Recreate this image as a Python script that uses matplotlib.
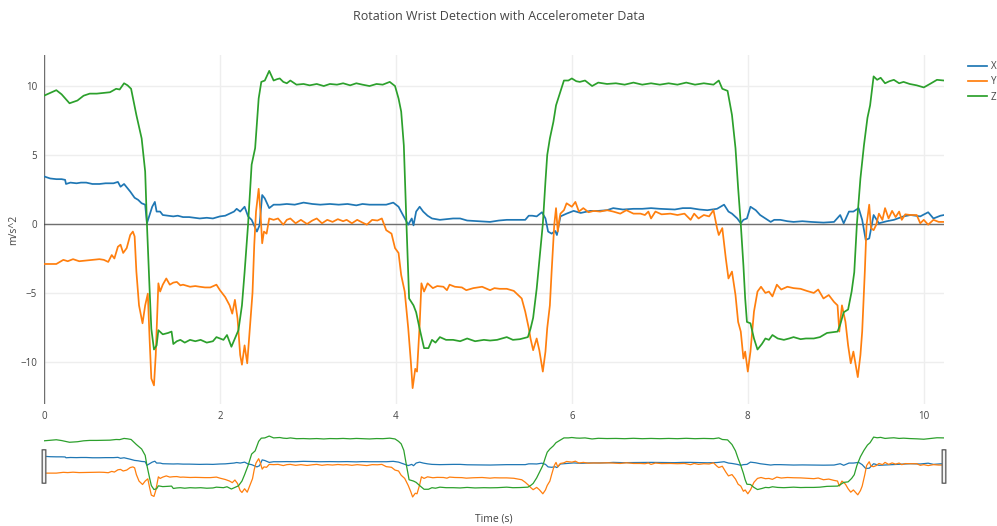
import matplotlib.pyplot as plt
from matplotlib.patches import FancyBboxPatch

plt.rcParams['font.family'] = ['Open Sans', 'DejaVu Sans']

# readings (time in s, acceleration in m/s^2)
t_z = [0.00, 0.07, 0.14, 0.20, 0.29, 0.38, 0.45, 0.52, 0.60, 0.68, 0.75, 0.82, 0.86, 0.91, 0.95, 0.99,
       1.05, 1.11, 1.15, 1.17, 1.20, 1.22, 1.25, 1.28, 1.30, 1.35, 1.41, 1.45, 1.47, 1.51, 1.55, 1.60,
       1.66, 1.72, 1.78, 1.85, 1.92, 1.96, 2.04, 2.08, 2.13, 2.21, 2.25, 2.28, 2.32, 2.36, 2.40, 2.44,
       2.47, 2.51, 2.56, 2.61, 2.65, 2.68, 2.72, 2.76, 2.80, 2.87, 2.95, 3.02, 3.10, 3.18, 3.25, 3.33,
       3.40, 3.48, 3.55, 3.62, 3.70, 3.78, 3.85, 3.93, 3.99, 4.03, 4.06, 4.09, 4.12, 4.15, 4.20, 4.23,
       4.27, 4.32, 4.37, 4.41, 4.45, 4.50, 4.57, 4.65, 4.73, 4.81, 4.90, 5.00, 5.07, 5.15, 5.26, 5.33,
       5.41, 5.50, 5.53, 5.56, 5.60, 5.64, 5.67, 5.70, 5.72, 5.75, 5.79, 5.82, 5.86, 5.91, 5.96, 6.00,
       6.05, 6.09, 6.15, 6.23, 6.30, 6.40, 6.50, 6.60, 6.70, 6.80, 6.90, 7.00, 7.10, 7.20, 7.30, 7.40,
       7.50, 7.61, 7.67, 7.71, 7.77, 7.82, 7.86, 7.89, 7.92, 7.95, 7.97, 7.99, 8.03, 8.07, 8.11, 8.16,
       8.20, 8.24, 8.28, 8.34, 8.41, 8.47, 8.52, 8.60, 8.66, 8.75, 8.82, 8.90, 9.02, 9.05, 9.09, 9.14,
       9.18, 9.21, 9.24, 9.28, 9.32, 9.36, 9.39, 9.43, 9.47, 9.51, 9.56, 9.61, 9.66, 9.72, 9.77, 9.84,
       9.92, 10.00, 10.07, 10.15, 10.23]
z = [9.3, 9.5, 9.7, 9.4, 8.75, 8.95, 9.3, 9.45, 9.45, 9.5, 9.55, 9.8, 9.75, 10.2, 10.05, 9.8,
     7.9, 6.2, 3.8, 0.0, -4.7, -7.6, -9.1, -8.8, -7.7, -8.0, -7.9, -7.8, -8.7, -8.5, -8.4, -8.6,
     -8.4, -8.5, -8.4, -8.6, -8.5, -8.2, -8.4, -8.05, -8.9, -7.7, -5.9, -3.5, 0.0, 4.3, 5.5, 9.1,
     10.3, 10.4, 11.1, 10.4, 10.5, 10.55, 10.3, 10.2, 10.4, 10.1, 10.15, 10.05, 10.15, 10.0, 10.15, 10.1,
     10.2, 10.05, 10.2, 10.1, 10.0, 10.15, 10.1, 10.3, 10.0, 9.1, 8.15, 5.7, 0.0, -5.4, -5.9, -6.4,
     -7.6, -9.0, -9.0, -8.4, -8.6, -8.2, -8.4, -8.4, -8.5, -8.3, -8.5, -8.4, -8.45, -8.4, -8.2, -8.4,
     -8.35, -8.2, -7.6, -6.8, -4.7, -2.0, 0.0, 3.1, 5.0, 6.2, 7.4, 8.6, 9.4, 10.4, 10.4, 10.55,
     10.35, 10.3, 10.4, 10.0, 10.25, 10.15, 10.2, 10.1, 10.25, 10.1, 10.2, 10.1, 10.2, 10.1, 10.25, 10.1,
     10.2, 10.1, 10.4, 9.8, 9.65, 7.9, 5.5, 2.6, 0.0, -3.0, -5.4, -7.1, -7.2, -8.3, -9.1, -8.7,
     -8.3, -8.4, -8.05, -8.3, -8.4, -8.3, -8.2, -8.35, -8.3, -8.3, -8.2, -7.9, -7.8, -7.3, -6.4, -6.2,
     -4.9, -3.5, 0.0, 3.3, 5.7, 7.7, 8.6, 10.7, 10.45, 10.6, 10.2, 10.35, 10.45, 10.2, 10.3, 10.15,
     10.05, 9.9, 10.15, 10.45, 10.4]

t_x = [0.00, 0.07, 0.14, 0.20, 0.24, 0.25, 0.30, 0.37, 0.42, 0.48, 0.55, 0.63, 0.70, 0.79, 0.84, 0.87,
       0.91, 0.98, 1.03, 1.07, 1.11, 1.15, 1.17, 1.20, 1.23, 1.26, 1.28, 1.32, 1.35, 1.41, 1.47, 1.52,
       1.58, 1.65, 1.71, 1.77, 1.85, 1.92, 2.00, 2.06, 2.11, 2.16, 2.19, 2.23, 2.28, 2.32, 2.36, 2.42,
       2.45, 2.48, 2.51, 2.56, 2.61, 2.68, 2.76, 2.85, 2.95, 3.05, 3.14, 3.25, 3.35, 3.45, 3.55, 3.62,
       3.70, 3.80, 3.89, 3.97, 4.03, 4.08, 4.14, 4.18, 4.20, 4.23, 4.27, 4.31, 4.36, 4.41, 4.50, 4.58,
       4.65, 4.73, 4.81, 4.95, 5.07, 5.17, 5.26, 5.37, 5.47, 5.51, 5.55, 5.60, 5.66, 5.70, 5.73, 5.77,
       5.81, 5.83, 5.87, 5.94, 6.02, 6.10, 6.21, 6.30, 6.40, 6.47, 6.58, 6.70, 6.80, 6.90, 7.00, 7.17,
       7.26, 7.35, 7.45, 7.54, 7.65, 7.73, 7.78, 7.82, 7.88, 7.92, 7.95, 7.99, 8.03, 8.09, 8.14, 8.20,
       8.26, 8.30, 8.37, 8.45, 8.52, 8.62, 8.72, 8.86, 8.98, 9.05, 9.09, 9.15, 9.20, 9.26, 9.30, 9.34,
       9.38, 9.43, 9.49, 9.58, 9.66, 9.77, 9.85, 9.96, 10.05, 10.11, 10.19, 10.23]
x = [3.45, 3.3, 3.25, 3.25, 3.2, 2.9, 3.0, 2.95, 3.0, 3.0, 2.9, 2.9, 2.95, 2.95, 3.05, 2.7,
     2.9, 2.35, 1.9, 1.75, 1.5, 1.4, 0.05, 0.65, 1.25, 1.6, 0.9, 0.9, 0.65, 0.6, 0.55, 0.6,
     0.5, 0.5, 0.45, 0.4, 0.45, 0.4, 0.55, 0.6, 0.75, 0.9, 1.1, 0.9, 1.25, 0.55, 0.3, -0.55,
     -0.1, 2.1, 1.85, 1.15, 1.4, 1.4, 1.45, 1.4, 1.55, 1.45, 1.4, 1.45, 1.4, 1.45, 1.35, 1.45,
     1.4, 1.4, 1.4, 1.55, 1.25, 0.65, -0.05, 0.4, -0.1, 0.9, 1.25, 0.9, 0.6, 0.4, 0.3, 0.35,
     0.4, 0.4, 0.25, 0.2, 0.15, 0.25, 0.3, 0.3, 0.3, 0.6, 0.6, 0.55, 0.85, 0.4, -0.55, -0.7,
     -0.5, -0.8, 0.55, 0.75, 0.95, 0.8, 0.95, 0.95, 1.0, 1.15, 1.05, 1.1, 1.1, 1.15, 1.1, 1.05,
     1.15, 1.15, 1.05, 1.0, 1.1, 1.4, 0.9, 0.75, 0.4, 0.05, 0.3, 0.4, 1.25, 1.0, 0.65, 0.4,
     0.15, 0.3, 0.3, 0.2, 0.15, 0.2, 0.15, 0.1, 0.15, 0.65, 0.05, 0.9, 0.9, 1.15, 0.3, -1.15,
     -1.05, 0.65, 0.05, 0.2, 0.3, 0.55, 0.65, 0.55, 0.85, 0.4, 0.6, 0.65]

t_y = [0.00, 0.07, 0.14, 0.18, 0.22, 0.27, 0.33, 0.40, 0.48, 0.55, 0.63, 0.68, 0.73, 0.77, 0.80, 0.84,
       0.87, 0.90, 0.94, 0.98, 1.01, 1.03, 1.05, 1.08, 1.12, 1.15, 1.18, 1.20, 1.22, 1.25, 1.27, 1.30,
       1.32, 1.35, 1.39, 1.43, 1.47, 1.51, 1.55, 1.58, 1.66, 1.72, 1.77, 1.83, 1.89, 1.96, 2.00, 2.06,
       2.11, 2.14, 2.17, 2.20, 2.23, 2.25, 2.28, 2.31, 2.34, 2.37, 2.39, 2.41, 2.44, 2.46, 2.48, 2.50,
       2.53, 2.56, 2.61, 2.66, 2.72, 2.76, 2.80, 2.86, 2.92, 2.99, 3.05, 3.10, 3.16, 3.22, 3.28, 3.34,
       3.40, 3.44, 3.50, 3.56, 3.62, 3.67, 3.73, 3.79, 3.84, 3.89, 3.95, 3.99, 4.03, 4.06, 4.10, 4.14,
       4.17, 4.19, 4.22, 4.24, 4.27, 4.29, 4.32, 4.36, 4.42, 4.47, 4.54, 4.58, 4.61, 4.67, 4.75, 4.80,
       4.88, 4.98, 5.07, 5.12, 5.18, 5.26, 5.34, 5.39, 5.43, 5.47, 5.51, 5.53, 5.56, 5.60, 5.63, 5.67,
       5.70, 5.72, 5.75, 5.77, 5.80, 5.82, 5.84, 5.86, 5.87, 5.91, 5.94, 6.00, 6.04, 6.08, 6.13, 6.19,
       6.25, 6.32, 6.40, 6.47, 6.55, 6.62, 6.70, 6.78, 6.83, 6.87, 6.90, 6.95, 7.02, 7.12, 7.20, 7.28,
       7.35, 7.39, 7.44, 7.50, 7.56, 7.61, 7.65, 7.67, 7.71, 7.75, 7.78, 7.82, 7.86, 7.89, 7.92, 7.95,
       7.97, 8.00, 8.03, 8.07, 8.11, 8.15, 8.20, 8.24, 8.28, 8.33, 8.38, 8.45, 8.52, 8.60, 8.67, 8.75,
       8.80, 8.86, 8.92, 8.98, 9.02, 9.04, 9.07, 9.11, 9.14, 9.17, 9.20, 9.22, 9.25, 9.28, 9.30, 9.33,
       9.35, 9.38, 9.40, 9.43, 9.46, 9.49, 9.53, 9.56, 9.60, 9.64, 9.68, 9.72, 9.75, 9.79, 9.85, 9.92,
       9.96, 10.00, 10.05, 10.11, 10.17, 10.23]
y = [-2.9, -2.9, -2.9, -2.75, -2.6, -2.7, -2.55, -2.7, -2.65, -2.6, -2.55, -2.6, -2.75, -2.25, -2.5, -1.65,
     -1.5, -2.1, -1.75, -0.8, -0.55, -0.9, -3.45, -5.9, -7.2, -5.9, -5.05, -8.3, -11.2, -11.7, -9.5, -4.3,
     -4.9, -4.4, -3.95, -4.4, -4.25, -4.2, -4.45, -4.4, -4.55, -4.5, -4.55, -4.6, -4.6, -4.4, -4.8, -5.3,
     -5.9, -6.5, -5.5, -6.85, -9.5, -10.2, -8.8, -10.1, -7.6, -5.0, -1.5, 0.9, 2.55, 0.9, -1.4, -0.55,
     -0.7, 0.4, 0.3, 0.4, -0.05, 0.3, 0.4, 0.05, 0.3, 0.0, 0.25, 0.4, 0.05, 0.3, 0.15, 0.35,
     0.2, 0.3, 0.05, 0.3, 0.1, -0.05, 0.3, 0.25, 0.4, -0.45, -0.7, -1.75, -2.1, -3.7, -4.9, -7.55,
     -10.0, -11.9, -10.5, -10.7, -7.3, -4.3, -4.9, -4.3, -4.65, -4.5, -4.55, -4.8, -4.4, -4.55, -4.6, -4.8,
     -4.65, -4.55, -4.8, -4.65, -4.7, -4.7, -4.85, -5.15, -5.4, -6.35, -7.55, -8.3, -9.15, -8.3, -9.15, -10.7,
     -9.25, -7.55, -5.9, -3.45, -0.05, 1.15, -0.55, 0.4, 0.75, 1.0, 1.5, 1.25, 1.6, 0.9, 1.15, 0.85,
     0.95, 0.9, 1.0, 0.9, 0.75, 1.0, 0.75, 0.75, 0.65, 0.9, 0.4, 0.9, 0.7, 0.75, 0.65, 0.75,
     0.3, 0.75, 0.4, 0.65, 0.55, 1.0, -0.3, -0.8, -0.3, -2.5, -3.95, -3.45, -5.15, -7.1, -7.8, -9.75,
     -9.25, -10.7, -9.25, -6.35, -4.9, -4.55, -5.0, -4.9, -5.25, -4.4, -4.75, -4.55, -4.65, -4.7, -4.85, -5.0,
     -4.75, -5.4, -5.15, -5.65, -5.9, -7.8, -5.9, -7.1, -8.8, -10.1, -9.25, -10.0, -11.1, -9.5, -7.8, -3.45,
     -0.05, 1.4, -0.3, -0.45, -0.05, 0.75, 0.3, 1.15, 0.4, 0.95, 0.5, 0.9, 0.3, 0.7, 0.65, 0.65,
     0.05, 0.3, -0.05, 0.3, 0.15, 0.15]

series = [('X', t_x, x, '#1f77b4'), ('Y', t_y, y, '#ff7f0e'), ('Z', t_z, z, '#2ca02c')]
xmax = 10.23
ylims = (-13.05, 12.25)
txt = '#444444'

fig = plt.figure(figsize=(9.97, 5.26), dpi=100)
ax = fig.add_axes([44 / 997, 1 - 404 / 526, 900 / 997, 349 / 526])
sl = fig.add_axes([44 / 997, 1 - 500 / 526, 900 / 997, 67 / 526])

for name, tt, vv, c in series:
    ax.plot(tt, vv, color=c, lw=1.25, label=name, solid_joinstyle='round')
    sl.plot(tt, vv, color=c, lw=0.9)

ax.set_xlim(0, xmax)
ax.set_ylim(*ylims)
ax.set_xticks([0, 2, 4, 6, 8, 10])
ax.set_yticks([-10, -5, 0, 5, 10])
ax.set_yticklabels(['\u221210', '\u22125', '0', '5', '10'])
ax.grid(True, color='#eeeeee', lw=1)
ax.set_axisbelow(True)
ax.axhline(0, color='#444444', lw=1, alpha=0.75, zorder=1)
ax.axvline(0, color='#444444', lw=1, alpha=0.75, zorder=1)
for s in ax.spines.values():
    s.set_visible(False)
ax.tick_params(length=0, labelsize=7, colors=txt, pad=5)

sl.set_xlim(0, xmax)
sl.set_ylim(*ylims)
sl.set_xticks([])
sl.set_yticks([])
for s in sl.spines.values():
    s.set_visible(False)
for hx in (0, 1):
    sl.add_patch(FancyBboxPatch((hx - 0.002, 0.25), 0.004, 0.5,
                                boxstyle='round,pad=0,rounding_size=0.002',
                                transform=sl.transAxes, facecolor='#f2f2f2',
                                edgecolor='#666666', lw=1, clip_on=False, zorder=5))

ax.legend(loc='upper left', bbox_to_anchor=(1.021, 0.997), frameon=False, fontsize=7,
          handlelength=2.0, handletextpad=0.4, labelcolor=txt, borderaxespad=0.3,
          borderpad=0.2, labelspacing=0.45)

fig.text(0.5, 1 - 16 / 526, 'Rotation Wrist Detection with Accelerometer Data',
         ha='center', va='center', fontsize=9, color=txt)
fig.text(14 / 997, 1 - 230 / 526, 'm/s^2', rotation=90, ha='center', va='center',
         fontsize=7.5, color=txt)
fig.text(494 / 997, 1 - 519 / 526, 'Time (s)', ha='center', va='center',
         fontsize=7.5, color=txt)

fig.savefig('out.png', dpi=100)
